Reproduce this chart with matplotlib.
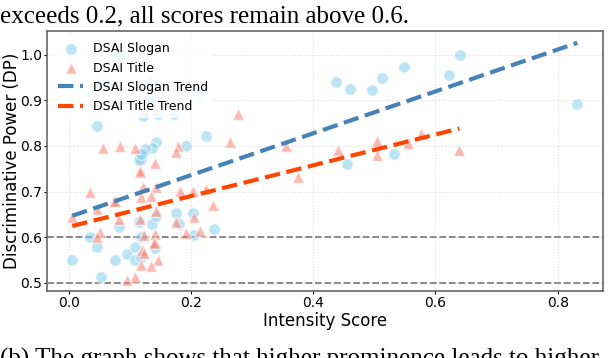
import matplotlib
matplotlib.use('Agg')
from matplotlib import pyplot as plt
import numpy as np

# DSAI Slogan points (intensity, DP)
slogan_x = [0.084, 0.058, 0.134, 0.136, 0.215, 0.047, 0.122, 0.146, 0.173, 0.224,
            0.143, 0.136, 0.125, 0.122, 0.118, 0.192, 0.115, 0.118,
            0.006, 0.035, 0.046, 0.053, 0.076, 0.083, 0.095, 0.109, 0.109, 0.115,
            0.118, 0.118, 0.137, 0.143, 0.141, 0.175, 0.181, 0.203, 0.205, 0.238,
            0.437, 0.461, 0.497, 0.512, 0.549, 0.623, 0.456, 0.533, 0.640, 0.832]
slogan_y = [1.000, 0.936, 0.938, 0.905, 0.916, 0.844, 0.865, 0.870, 0.870, 0.821,
            0.809, 0.795, 0.793, 0.784, 0.770, 0.800, 0.770, 0.783,
            0.550, 0.600, 0.578, 0.512, 0.550, 0.623, 0.562, 0.578, 0.550, 0.634,
            0.556, 0.600, 0.629, 0.647, 0.576, 0.652, 0.629, 0.652, 0.605, 0.618,
            0.940, 0.924, 0.922, 0.949, 0.973, 0.955, 0.761, 0.783, 1.000, 0.891]

# DSAI Title points
title_x = [0.056, 0.084, 0.108, 0.179, 0.176, 0.141, 0.117, 0.116,
           0.035, 0.122, 0.143, 0.118, 0.134, 0.183, 0.203, 0.224, 0.074,
           0.006, 0.046, 0.083, 0.143, 0.117, 0.175, 0.205, 0.192, 0.215, 0.052,
           0.047, 0.123, 0.141, 0.141, 0.139, 0.120, 0.123, 0.146, 0.118, 0.134,
           0.108, 0.095, 0.076, 0.237,
           0.277, 0.264, 0.356, 0.375, 0.441, 0.504, 0.505, 0.555, 0.576, 0.639]
title_y = [0.795, 0.799, 0.795, 0.799, 0.786, 0.762, 0.748, 0.743,
           0.698, 0.710, 0.711, 0.688, 0.690, 0.702, 0.702, 0.706, 0.680,
           0.645, 0.661, 0.639, 0.658, 0.639, 0.634, 0.644, 0.610, 0.614, 0.612,
           0.601, 0.605, 0.606, 0.590, 0.587, 0.572, 0.565, 0.551, 0.539, 0.537,
           0.512, 0.507, 0.680, 0.671,
           0.870, 0.808, 0.800, 0.731, 0.790, 0.781, 0.810, 0.806, 0.825, 0.792]

# fitted trend lines (slope, intercept)
slogan_fit = (0.459, 0.644)
title_fit = (0.3376, 0.6224)

ref_lines = [0.5, 0.6]

fig = plt.figure(figsize=(6.08, 3.58), dpi=100)
ax = fig.add_axes((0.0773, 0.186, 0.9137, 0.7274))

ax.scatter(slogan_x, slogan_y, s=70, marker='o', color='skyblue', alpha=0.55,
           edgecolors='white', linewidths=1, label='DSAI Slogan', zorder=3)
ax.scatter(title_x, title_y, s=70, marker='^', color='salmon', alpha=0.55,
           edgecolors='white', linewidths=1, label='DSAI Title', zorder=3)

xs = np.linspace(min(slogan_x), max(slogan_x), 50)
ax.plot(xs, slogan_fit[0]*xs + slogan_fit[1], '--', color='#4682B4', lw=3,
        label='DSAI Slogan Trend', zorder=4)
xt = np.linspace(min(title_x), max(title_x), 50)
ax.plot(xt, title_fit[0]*xt + title_fit[1], '--', color='#FF4500', lw=3,
        label='DSAI Title Trend', zorder=4)

for v in ref_lines:
    ax.axhline(v, color='gray', ls='--', lw=1.3, zorder=2)

ax.grid(True, color='#dddddd', ls=':', lw=0.8)
ax.set_axisbelow(True)
for s in ax.spines.values():
    s.set_color('#666666')
    s.set_linewidth(1.2)

ax.set_xticks([0.0, 0.2, 0.4, 0.6, 0.8])
ax.set_yticks([0.5, 0.6, 0.7, 0.8, 0.9, 1.0])
ax.tick_params(labelsize=10, length=2, pad=1.5)
ax.set_xlabel('Intensity Score', fontsize=12, labelpad=1)
ax.set_ylabel('Discriminative Power (DP)', fontsize=12)
ax.yaxis.set_label_coords(-0.046, 0.5)

leg = ax.legend(loc='upper left', fontsize=9, framealpha=0.8, edgecolor='none')

fig.text(0.0, 0.936, 'exceeds 0.2, all scores remain above 0.6.',
         family='Liberation Serif', fontsize=18, va='baseline', ha='left')
fig.text(0.0, -0.022, '(b) The graph shows that higher prominence leads to higher',
         family='Liberation Serif', fontsize=18, va='baseline', ha='left')

fig.savefig('out.png', dpi=100)
